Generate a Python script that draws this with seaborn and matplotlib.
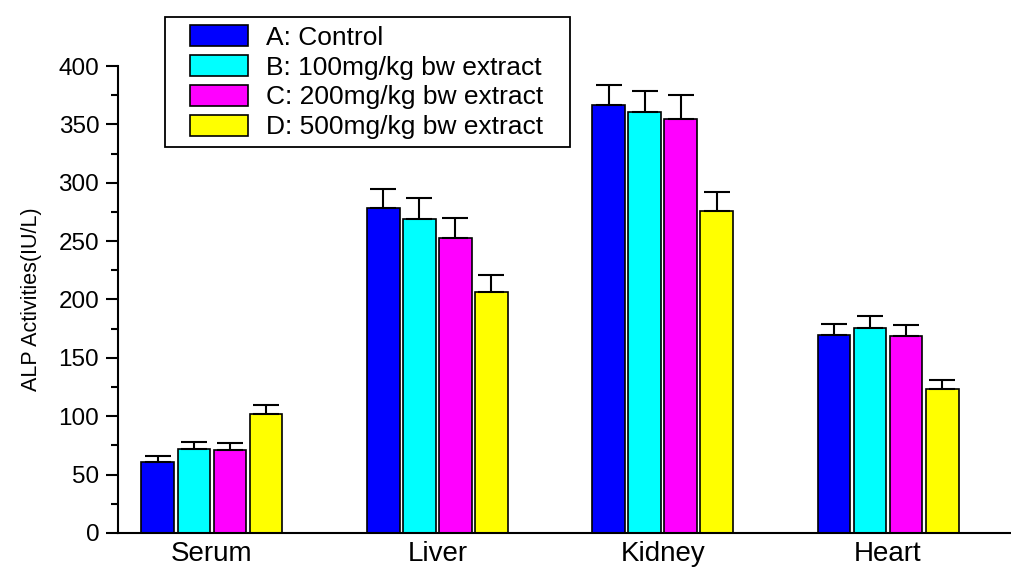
import matplotlib
matplotlib.use("Agg")
import matplotlib.pyplot as plt
import numpy as np
import pandas as pd
import seaborn as sns
from matplotlib.patches import Rectangle
from matplotlib.ticker import MultipleLocator

tissues = ["Serum", "Liver", "Kidney", "Heart"]
groups = ["A: Control", "B: 100mg/kg bw extract", "C: 200mg/kg bw extract", "D: 500mg/kg bw extract"]
colors = ["#0000ff", "#00ffff", "#ff00ff", "#ffff00"]

control = [61, 278, 367, 170]
dose_100 = [72, 269, 361, 176]
dose_200 = [71, 253, 355, 169]
dose_500 = [102, 206, 276, 123]

control_err = [5, 17, 17, 9]
dose_100_err = [6, 18, 18, 10]
dose_200_err = [6, 17, 20, 9]
dose_500_err = [8, 15, 16, 8]

sns.set_theme(style="ticks")
plt.rcParams["font.family"] = ["Liberation Sans", "DejaVu Sans"]
plt.rcParams["text.color"] = "black"
plt.rcParams["axes.labelcolor"] = "black"
plt.rcParams["xtick.color"] = "black"
plt.rcParams["ytick.color"] = "black"
plt.rcParams["axes.edgecolor"] = "black"

values = [control, dose_100, dose_200, dose_500]
errors = [control_err, dose_100_err, dose_200_err, dose_500_err]
df = pd.DataFrame(
    [{"tissue": t, "group": g, "alp": v[i], "err": e[i]}
     for g, v, e in zip(groups, values, errors) for i, t in enumerate(tissues)]
)

fig = plt.figure(figsize=(10.12, 5.69), dpi=100)
ax = fig.add_axes([0.1166, 0.0633, 0.8834, 0.8207])

sns.barplot(data=df, x="tissue", y="alp", hue="group", order=tissues, hue_order=groups,
            palette=colors, width=0.64, gap=0.09, errorbar=None, edgecolor="black",
            linewidth=1.2, saturation=1, ax=ax)

# one-sided error bars placed on the drawn bars
for container, g in zip(ax.containers, groups):
    sub = df[df["group"] == g].set_index("tissue").loc[tissues]
    xs = [p.get_x() + p.get_width() / 2 for p in container.patches]
    hs = [p.get_height() for p in container.patches]
    ax.errorbar(xs, hs, yerr=[np.zeros(len(xs)), sub["err"].values], fmt="none",
                ecolor="black", elinewidth=1.5, capsize=9.5, capthick=1.5, zorder=1)

ax.set_ylim(0, 400)
ax.set_xlim(-0.417, 3.55)
ax.yaxis.set_major_locator(MultipleLocator(50))
ax.yaxis.set_minor_locator(MultipleLocator(25))
ax.tick_params(axis="y", which="major", length=8.5, width=1.5, labelsize=17.5, pad=5)
ax.tick_params(axis="y", which="minor", length=5, width=1.5)
ax.tick_params(axis="x", length=0, labelsize=20, pad=6)
sns.despine(ax=ax)
ax.spines["left"].set_linewidth(1.5)
ax.spines["bottom"].set_linewidth(1.5)

ax.set_xlabel("")
ax.set_ylabel("ALP Activities(IU/L)", fontsize=15.5,
              family=["Liberation Sans Narrow", "Liberation Sans", "DejaVu Sans"], labelpad=12)

leg = ax.legend(loc="upper left", bbox_to_anchor=(0.08, 1.088), fontsize=19, frameon=False,
                handlelength=2.2, handleheight=0.85, labelspacing=0.2, handletextpad=0.7,
                borderpad=0, borderaxespad=0)
for h in leg.legend_handles:
    h.set_edgecolor("black")
    h.set_linewidth(1.2)

# square box around the legend with wider side padding
fig.canvas.draw()
bb = leg.get_window_extent()
box = Rectangle((bb.x0 - 25, bb.y0 - 8), bb.width + 52, bb.height + 16,
                transform=None, fill=False, edgecolor="black", linewidth=1.3, zorder=5)
fig.patches.append(box)

fig.savefig("out.png", dpi=100)
